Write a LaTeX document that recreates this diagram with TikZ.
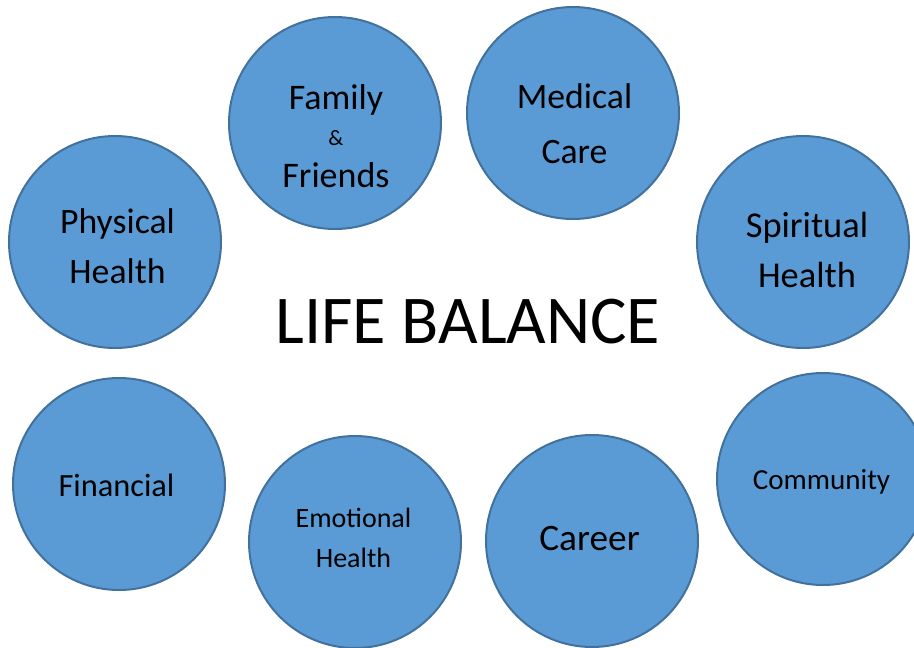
\documentclass[tikz,border=0pt]{standalone}
\usepackage{fontspec}
\setmainfont{Carlito}
\usepackage{tikz}
\usetikzlibrary{positioning}

\begin{document}
\begin{tikzpicture}[
      x=0.75pt,y=-0.75pt,
      disc/.style={circle,draw={rgb,255:red,65;green,113;blue,156},
        fill={rgb,255:red,91;green,155;blue,213},line width=1.5pt,
        minimum size=159pt,inner sep=0pt},
      word/.style={align=center,inner sep=0pt},
    ]
        \useasboundingbox (0,0) rectangle (914,647);
        \clip (0,0) rectangle (914,647);
        % the eight circles
        \node[disc] (physical)  at (115,242) {};
        \node[disc] (family)    at (335,123) {};
        \node[disc] (medical)   at (573,113) {};
        \node[disc] (spiritual) at (803,242) {};
        \node[disc] (financial) at (119,484) {};
        \node[disc] (emotional) at (355,542) {};
        \node[disc] (career)    at (592,541) {};
        \node[disc] (community) at (823,479) {};
        % their texts
        \node[word,font=\fontsize{26.8}{37.5}\selectfont] (physicalT) at (117.5,246) {Physical\\Health};
        \node[word,font=\fontsize{27}{27}\selectfont] (familyT) at (336,136)
            {Family\\{\fontsize{16.5}{18}\selectfont\&}\\[4.5pt]Friends};
        \node[word,font=\fontsize{26.8}{41}\selectfont] (medicalT) at (574.5,124) {Medical\\Care};
        \node[word,font=\fontsize{27.3}{37.5}\selectfont] (spiritualT) at (807,250) {Spiritual\\Health};
        \node[word,font=\fontsize{24.3}{28}\selectfont] (financialT) at (116.5,485.5) {Financial};
        \node[word,font=\fontsize{21}{30}\selectfont] (emotionalT) at (353.5,537.5) {Emotional\\Health};
        \node[word,font=\fontsize{28}{32}\selectfont] (careerT) at (589.5,538.5) {Career};
        \node[word,font=\fontsize{21.8}{25}\selectfont] (communityT) at (821.5,481.5) {Community};
        \node[word,font=\fontsize{51.3}{60}\selectfont] (title) at (468,321.5) {LIFE BALANCE};
    \end{tikzpicture}
\end{document}
